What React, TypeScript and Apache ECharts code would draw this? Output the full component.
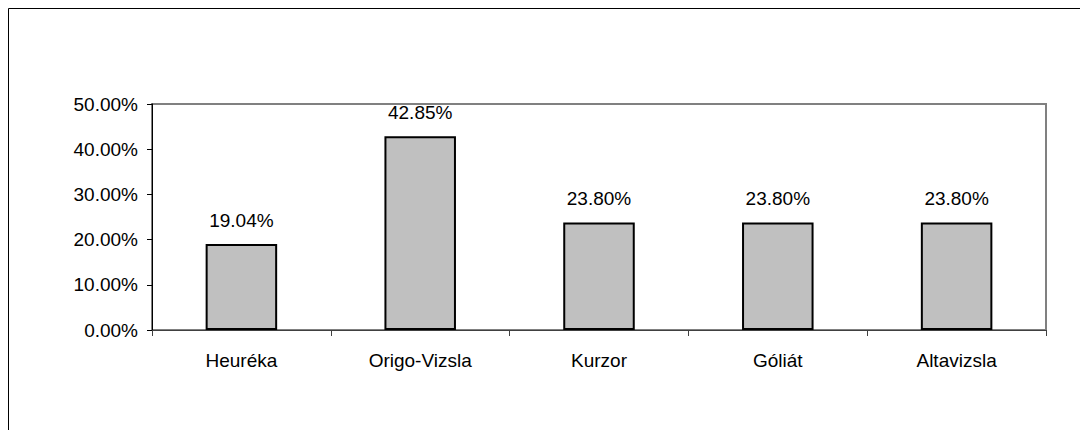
import React, { useEffect, useRef } from "react";
import * as echarts from "echarts";

const categories = ["Heuréka", "Origo-Vizsla", "Kurzor", "Góliát", "Altavizsla"];
const values = [19.04, 42.85, 23.8, 23.8, 23.8];
const yTicks = { min: 0, max: 50, interval: 10 };

export default function App() {
  const ref = useRef<HTMLDivElement>(null);
  useEffect(() => {
    if (!ref.current) return;
    const chart = echarts.init(ref.current, null, { renderer: "svg" });
    const font = "'Liberation Sans', Arial, sans-serif";
    chart.setOption({
      animation: false,
      backgroundColor: "#ffffff",
      textStyle: { fontFamily: font },
      graphic: [
        {
          type: "rect",
          shape: { x: 8.5, y: 8.5, width: 1200, height: 600 },
          style: { fill: "none", stroke: "#000000", lineWidth: 1 },
          silent: true,
          z: 0,
        },
      ],
      grid: {
        left: 152,
        top: 104,
        right: 34,
        height: 226,
        show: true,
        borderColor: "#808080",
        borderWidth: 2,
        backgroundColor: "transparent",
      },
      xAxis: {
        type: "category",
        data: categories,
        boundaryGap: true,
        axisLine: { show: true, lineStyle: { color: "#404040", width: 1 } },
        axisTick: { show: true, inside: false, length: 6, lineStyle: { color: "#404040" } },
        axisLabel: { color: "#000000", fontSize: 19, fontFamily: font, margin: 21 },
        splitLine: { show: false },
      },
      yAxis: {
        type: "value",
        min: yTicks.min,
        max: yTicks.max,
        interval: yTicks.interval,
        axisLine: { show: true, lineStyle: { color: "#000000", width: 1 } },
        axisTick: { show: true, inside: false, length: 5, lineStyle: { color: "#000000" } },
        axisLabel: {
          color: "#000000",
          fontSize: 19,
          fontFamily: font,
          margin: 14,
          formatter: (v: number) => v.toFixed(2) + "%",
        },
        splitLine: { show: false },
      },
      series: [
        {
          type: "bar",
          data: values,
          barWidth: "40%",
          itemStyle: { color: "#c0c0c0", borderColor: "#000000", borderWidth: 2 },
          label: {
            show: true,
            position: "top",
            distance: 14,
            color: "#000000",
            fontSize: 19,
            fontFamily: font,
            formatter: (p: any) => p.value.toFixed(2) + "%",
          },
        },
      ],
    });
    return () => chart.dispose();
  }, []);
  return (
    <div
      ref={ref}
      style={{ position: "fixed", left: 0, top: 0, width: 1080, height: 430 }}
    />
  );
}
